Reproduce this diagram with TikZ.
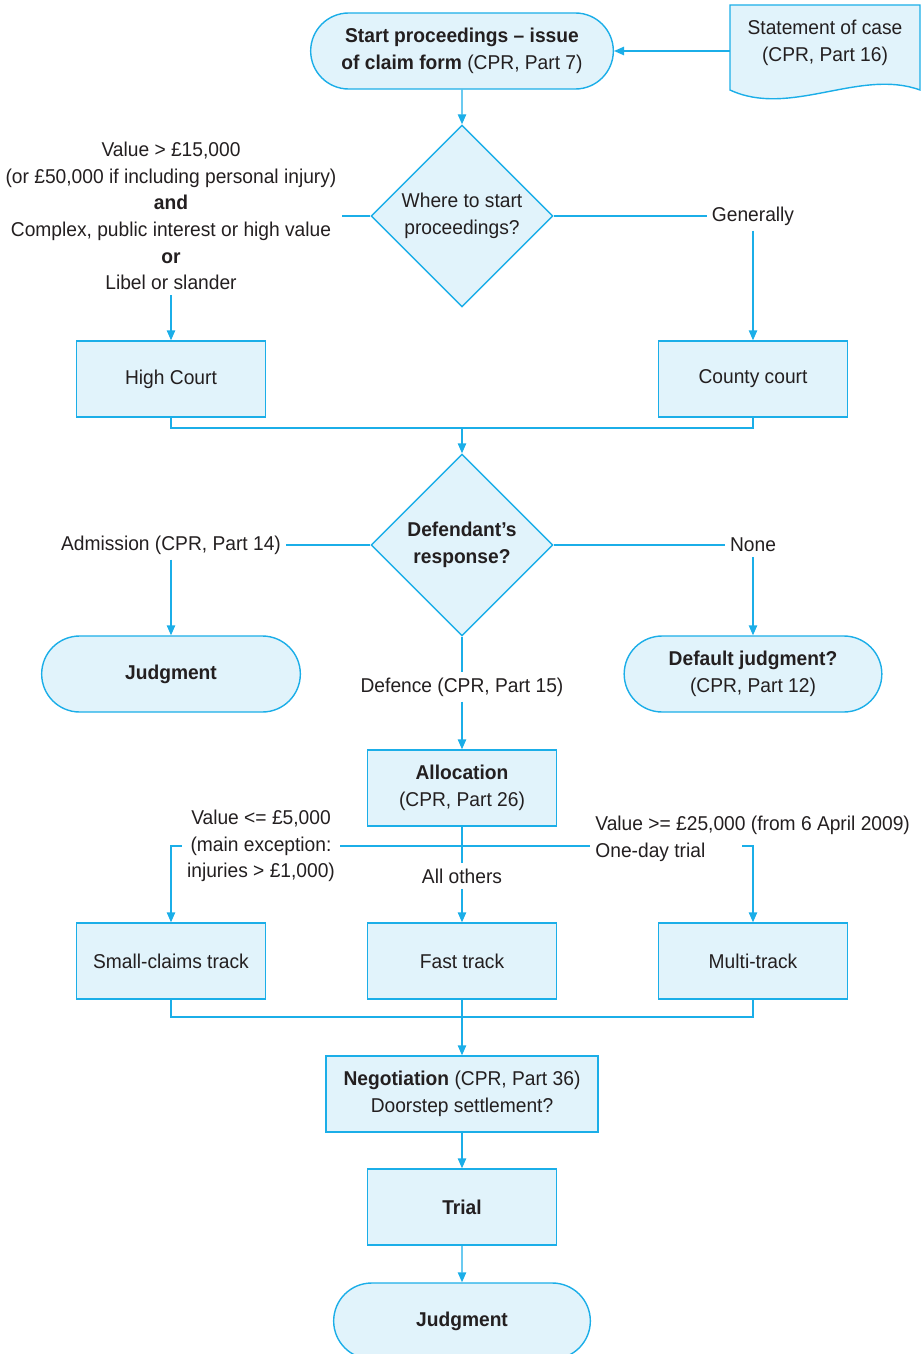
\documentclass[tikz,border=0pt]{standalone}
\usepackage{fontspec}
\setmainfont{Liberation Sans}[FakeStretch=0.96]
\usetikzlibrary{shapes,arrows.meta,positioning}
\definecolor{flowline}{HTML}{1BAEE8}
\definecolor{flowfill}{HTML}{E1F3FB}
\definecolor{flowtext}{HTML}{231F20}
\tikzstyle{line} = [draw=flowline, line width=0.7pt]
\tikzstyle{arrow} = [line, -{Triangle[length=5pt,width=4.2pt]}]
\tikzstyle{block} = [rectangle, line, fill=flowfill, text=flowtext, align=center, minimum width=94.5pt, minimum height=38pt]
\tikzstyle{term} = [rounded rectangle, line, fill=flowfill, text=flowtext, align=center, minimum height=38pt]
\tikzstyle{decision} = [diamond, line, fill=flowfill, text=flowtext, align=center, minimum width=91pt, minimum height=91pt, inner sep=0pt]
\tikzstyle{label} = [align=center, text=flowtext, inner sep=2.5pt]

\begin{document}
\begin{tikzpicture}[x=0.5pt,y=-0.5pt,font=\fontsize{10}{13.3}\selectfont]
    \useasboundingbox (0,0) rectangle (924,1354);
    \node [term, minimum width=158pt] (start) at (462,51) {\textbf{Start proceedings – issue}\\\textbf{of claim form} (CPR, Part 7)};
    \draw [line, fill=flowfill] (730,5) -- (920,5) -- (920,90) .. controls (860,68) and (790,118) .. (730,90) -- cycle;
    \node [label, minimum width=95pt, inner sep=0pt] (stmt) at (825,43) {Statement of case\\(CPR, Part 16)};

    \node [decision] (where) at (462,216) {Where to start\\proceedings?};
    \node [label] (hcond) at (171,216) {Value > £15,000\\(or £50,000 if including personal injury)\\\textbf{and}\\Complex, public interest or high value\\\textbf{or}\\Libel or slander};
    \node [label] (gen) at (753,216) {Generally};
    \node [block] (high) at (171,379) {High Court};
    \node [block] (county) at (753,379) {County court};
    \coordinate (join1) at (462,428);

    \node [decision] (resp) at (462,545) {\textbf{Defendant’s}\\\textbf{response?}};
    \node [label] (adm) at (171,545) {Admission (CPR, Part 14)};
    \node [label] (none) at (753,545) {None};
    \node [term, minimum width=136pt] (judg1) at (171,674) {\textbf{Judgment}};
    \node [term, minimum width=135.5pt] (defjudg) at (753,674) {\textbf{Default judgment?}\\(CPR, Part 12)};
    \node [label] (defence) at (462,687) {Defence (CPR, Part 15)};

    \node [block] (alloc) at (462,788) {\textbf{Allocation}\\(CPR, Part 26)};
    \node [label] (smlab) at (261,846) {Value <= £5,000\\(main exception:\\injuries > £1,000)};
    \node [label, align=left, anchor=west] (mlab) at (590,839) {Value >= £25,000 (from 6 April 2009)\\One-day trial};
    \node [label] (others) at (462,876) {All others};
    \coordinate (mright) at (742,846);
    \node [block] (small) at (171,961) {Small-claims track};
    \node [block] (fast) at (462,961) {Fast track};
    \node [block] (multi) at (753,961) {Multi-track};
    \coordinate (join2) at (462,1017);

    \node [block, minimum width=136pt] (nego) at (462,1094) {\textbf{Negotiation} (CPR, Part 36)\\Doorstep settlement?};
    \node [block] (trial) at (462,1207) {\textbf{Trial}};
    \node [term, minimum width=135pt] (judg2) at (462,1321) {\textbf{Judgment}};

     \draw[arrow] (stmt.west |- start.east) -- (start.east);
     \draw[arrow] (start) -- (where);
     \draw[line] (where.west) -- (hcond.east);
     \draw[arrow] (hcond.south) -- (high.north);
     \draw[line] (where.east) -- (gen.west);
     \draw[arrow] (gen.south) -- (county.north);
     \draw[line] (high.south) |- (join1) -| (county.south);
     \draw[arrow] (join1) -- (resp.north);

     \draw[line] (resp.west) -- (adm.east);
     \draw[arrow] (adm.south) -- (judg1.north);
     \draw[line] (resp.east) -- (none.west);
     \draw[arrow] (none.south) -- (defjudg.north);
     \draw[line] (resp.south) -- (defence.north);
     \draw[arrow] (defence.south) -- (alloc.north);

     \draw[line] (alloc.south) -- (others.north);
     \draw[arrow] (others.south) -- (fast.north);
     \draw[arrow] (smlab.west) -| (small.north);
     \draw[line] (smlab.east) -- (mlab.west |- smlab.east);
     \draw[arrow] (mright) -| (multi.north);
     \draw[line] (small.south) |- (join2) -| (multi.south);
     \draw[arrow] (fast.south) -- (nego.north);
     \draw[arrow] (nego) -- (trial);
     \draw[arrow] (trial) -- (judg2);
\end{tikzpicture}
\end{document}
